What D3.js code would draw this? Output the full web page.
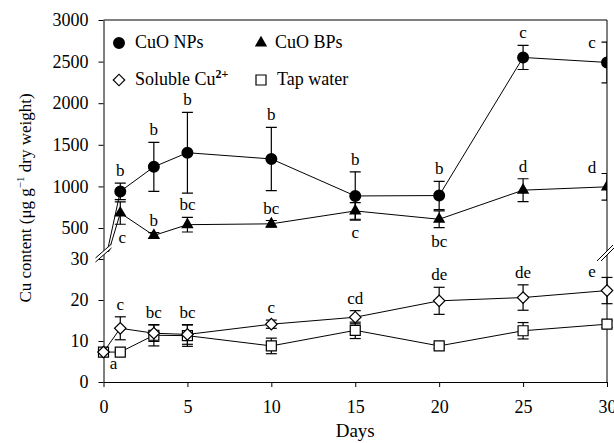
<!DOCTYPE html>
<html>
<head>
<meta charset="utf-8">
<script src="https://cdn.jsdelivr.net/npm/d3@7"></script>
<style>
  body { margin: 0; background: #fff; }
  svg { display: block; }
  text { font-family: "Liberation Serif", "Times New Roman", serif; fill: #000; }
</style>
</head>
<body>
<div id="chart"></div>
<script>
// sampling days
const days = [0, 1, 3, 5, 10, 15, 20, 25, 30]

// CuO NPs (upper panel)
const npMean = [7.3, 940, 1235, 1405, 1330, 885, 890, 2550, 2490]
const npSd = [0, 100, 295, 485, 380, 290, 170, 145, 245]
const npLetters = ['', 'b', 'b', 'b', 'b', 'b', 'b', 'c', 'c']

// CuO BPs (upper panel)
const bpMean = [7.3, 680, 410, 540, 550, 705, 605, 955, 995]
const bpSd = [0, 135, 35, 88, 40, 100, 100, 137, 160]
const bpLetters = ['', 'c', 'b', 'bc', 'bc', 'c', 'bc', 'd', 'd']
const bpBelowDays = [1, 15, 20]

// Soluble Cu2+ (lower panel)
const solMean = [7.3, 13.1, 11.9, 11.6, 14.1, 15.8, 19.8, 20.6, 22.3]
const solSd = [0, 2.8, 2.0, 2.4, 1.0, 1.6, 3.3, 3.1, 3.2]
const solLetters = ['a', 'c', 'bc', 'bc', 'c', 'cd', 'de', 'de', 'e']

// Tap water (lower panel)
const tapMean = [7.3, 7.3, 11.4, 11.3, 8.8, 12.6, 8.8, 12.5, 14.1]
const tapSd = [0, 0.4, 2.6, 2.6, 1.9, 2.0, 0.6, 2.0, 0.8]

const xTicks = [0, 5, 10, 15, 20, 25, 30]
const yTicks = [0, 10, 20, 30, 500, 1000, 1500, 2000, 2500, 3000]

const width = 614
const height = 443
const margin = { top: 20, right: 7, bottom: 61, left: 103.5 }

const svg = d3.select('#chart')
    .append('svg')
    .attr('width', width)
    .attr('height', height)

const x = d3.scaleLinear()
    .domain([0, 30])
    .range([margin.left, width - margin.right])

const yUp = d3.scaleLinear().domain([500, 3000]).range([228, margin.top])
const yLow = d3.scaleLinear().domain([0, 30]).range([height - margin.bottom, 259])
// axis only: both panels stacked
const yAxisScale = d3.scaleLinear()
    .domain([0, 30, 500, 3000])
    .range([height - margin.bottom, 259, 228, margin.top])

const breakY = 252

svg.append('defs').append('clipPath').attr('id', 'upclip')
    .append('rect')
    .attr('x', margin.left).attr('y', margin.top)
    .attr('width', width - margin.right - margin.left)
    .attr('height', breakY - margin.top)

function xAxis(g) {
    g.attr('transform', `translate(0,${height - margin.bottom})`)
        .call(d3.axisBottom(x).tickValues(xTicks).tickFormat(d3.format('d'))
            .tickSize(5).tickPadding(13).tickSizeOuter(0))
        .attr('font-size', '18px')
}

function yAxis(g) {
    g.attr('transform', `translate(${margin.left},0)`)
        .call(d3.axisLeft(yAxisScale).tickValues(yTicks).tickFormat(d3.format('d'))
            .tickSize(5).tickPadding(10).tickSizeOuter(0))
        .attr('font-size', '18px')
}

svg.append('g').call(xAxis)
svg.append('g').call(yAxis)
svg.selectAll('.tick text').attr('font-family', '"Liberation Serif", serif').attr('fill', '#000')

// frame top + right
svg.append('path')
    .attr('d', `M${margin.left},${margin.top}H${width - margin.right}V${height - margin.bottom}`)
    .attr('fill', 'none').attr('stroke', '#000')

function series(ys, mean, sd) {
    return days.map((d, i) => ({ day: d, v: mean[i], sd: sd[i], ys }))
}

const np = series(yUp, npMean, npSd)
const bp = series(yUp, bpMean, bpSd)
const sol = series(yLow, solMean, solSd)
const tap = series(yLow, tapMean, tapSd)

const line = d => d3.line().x(p => x(p.day)).y(p => p.ys(p.v))(d)

const up = svg.append('g').attr('clip-path', 'url(#upclip)')
const low = svg.append('g')

function drawSeries(g, data, shape) {
    g.append('path').attr('d', line(data)).attr('fill', 'none').attr('stroke', '#000').attr('stroke-width', 1)
    const eb = data.filter(p => p.sd > 0)
    const bars = g.append('g').selectAll('g').data(eb).join('g')
        .attr('stroke', '#000').attr('stroke-width', 1.2)
    bars.append('line')
        .attr('x1', p => x(p.day)).attr('x2', p => x(p.day))
        .attr('y1', p => p.ys(p.v + p.sd)).attr('y2', p => p.ys(p.v - p.sd))
    bars.append('line')
        .attr('x1', p => x(p.day) - 5.5).attr('x2', p => x(p.day) + 5.5)
        .attr('y1', p => p.ys(p.v + p.sd)).attr('y2', p => p.ys(p.v + p.sd))
    bars.append('line')
        .attr('x1', p => x(p.day) - 5.5).attr('x2', p => x(p.day) + 5.5)
        .attr('y1', p => p.ys(p.v - p.sd)).attr('y2', p => p.ys(p.v - p.sd))
    g.append('g').selectAll('path').data(data).join('path')
        .attr('transform', p => `translate(${x(p.day)},${p.ys(p.v)})`)
        .call(shape)
}

const circle = s => s.attr('d', d3.symbol(d3.symbolCircle, 113)()).attr('fill', '#000')
const triangle = s => s.attr('d', d3.symbol(d3.symbolTriangle, 66)()).attr('fill', '#000')
const diamond = s => s.attr('d', d3.symbol(d3.symbolSquare, 66)())
    .attr('transform', function () { return d3.select(this).attr('transform') + ' rotate(45)' })
    .attr('fill', '#fff').attr('stroke', '#000').attr('stroke-width', 1.2)
const square = s => s.attr('d', d3.symbol(d3.symbolSquare, 100)())
    .attr('fill', '#fff').attr('stroke', '#000').attr('stroke-width', 1.2)

drawSeries(up, bp, triangle)
drawSeries(up, np, circle)
drawSeries(low, tap, square)
drawSeries(low, sol, diamond)

// significance letters
const letters = svg.append('g').attr('font-size', '17px').attr('text-anchor', 'middle')
function addLetters(data, labels, below) {
    data.forEach((p, i) => {
        if (!labels[i]) return
        let lx = x(p.day), ly
        if (p.day === 30) {
            lx = x(p.day) - 15
            ly = p.ys(p.v) - 14
        } else if (p.day === 0) {
            lx = x(p.day) + 10
            ly = p.ys(p.v) + 17
        } else if (below.includes(p.day)) {
            lx = x(p.day) + (p.day === 1 ? 2 : 0)
            ly = p.ys(p.v - p.sd) + 19
        } else {
            ly = p.ys(p.v + p.sd) - 7
        }
        letters.append('text').attr('x', lx).attr('y', ly).text(labels[i])
    })
}
addLetters(np, npLetters, [])
addLetters(bp, bpLetters, bpBelowDays)
addLetters(sol, solLetters, [])

// axis breaks
function breakMark(cx, cy, dx, dy, ox, oy) {
    const g = svg.append('g')
    g.append('polygon')
        .attr('points', [
            [cx - dx - ox, cy + dy - oy], [cx + dx - ox, cy - dy - oy],
            [cx + dx + ox, cy - dy + oy], [cx - dx + ox, cy + dy + oy]
        ].map(p => p.join(',')).join(' '))
        .attr('fill', '#fff')
    ;[-1, 1].forEach(s => {
        g.append('line')
            .attr('x1', cx - dx + s * ox).attr('y1', cy + dy + s * oy)
            .attr('x2', cx + dx + s * ox).attr('y2', cy - dy + s * oy)
            .attr('stroke', '#000').attr('stroke-width', 1)
    })
}
breakMark(margin.left, 253, 8, 7, 0, 2)
breakMark(width - margin.right, 253, 8, 8, 2, 0)

// legend
const legend = svg.append('g').attr('font-size', '18px')
legend.append('path').attr('transform', 'translate(119,43)').call(circle)
legend.append('text').attr('x', 135).attr('y', 48).text('CuO NPs')
legend.append('path').attr('transform', 'translate(261,43)').call(triangle)
legend.append('text').attr('x', 275).attr('y', 48).text('CuO BPs')
legend.append('path').attr('transform', 'translate(119,80)').call(diamond)
const sc = legend.append('text').attr('x', 135).attr('y', 85)
sc.append('tspan').text('Soluble Cu')
sc.append('tspan').attr('font-size', '12px').attr('font-weight', 'bold').attr('dy', -7).text('2+')
legend.append('path').attr('transform', 'translate(261,80)').call(square)
legend.append('text').attr('x', 277).attr('y', 85).text('Tap water')

// axis titles
svg.append('text')
    .attr('x', (margin.left + width - margin.right) / 2).attr('y', 437)
    .attr('text-anchor', 'middle').attr('font-size', '19px')
    .text('Days')

const yt = svg.append('text')
    .attr('transform', 'translate(31,198) rotate(-90)')
    .attr('text-anchor', 'middle').attr('font-size', '17px')
yt.append('tspan').text('Cu content (μg g')
yt.append('tspan').attr('font-size', '11px').attr('dy', -7).text('−1')
yt.append('tspan').attr('dy', 7).text(' dry weight)')
</script>
</body>
</html>
